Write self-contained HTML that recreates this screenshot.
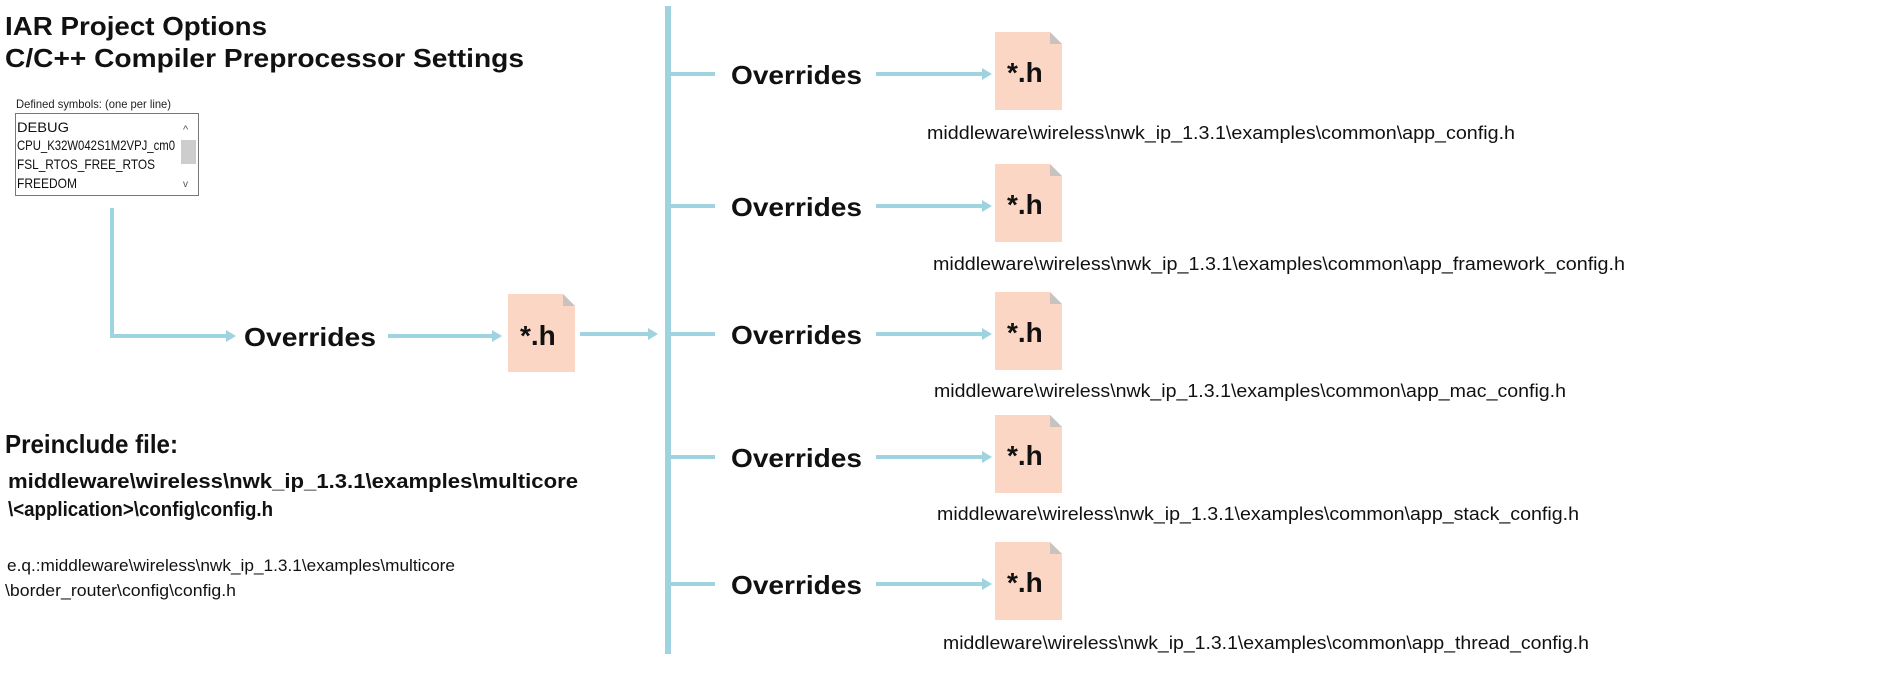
<!DOCTYPE html>
<html><head><meta charset="utf-8"><style>
html,body{margin:0;padding:0;background:#fff;width:1880px;height:675px;overflow:hidden}
svg{display:block}
.t{font-family:"Liberation Sans",sans-serif}
</style></head><body>
<svg width="1880" height="675" viewBox="0 0 1880 675" xmlns="http://www.w3.org/2000/svg">
<defs>
<g id="doc">
<path d="M0,0 H55 L67,12 V78 H0 Z" fill="#fbd6c5"/>
<path d="M55,0 L67,12 H55 Z" fill="#c9c3c0"/>
</g>
</defs>
<g class="t" font-weight="bold" fill="#111">
<text x="5" y="35" font-size="26" textLength="262" lengthAdjust="spacingAndGlyphs">IAR Project Options</text>
<text x="5" y="67" font-size="26" textLength="519" lengthAdjust="spacingAndGlyphs">C/C++ Compiler Preprocessor Settings</text>
</g>
<text class="t" x="16" y="108" font-size="12" fill="#222" textLength="155" lengthAdjust="spacingAndGlyphs">Defined symbols: (one per line)</text>
<rect x="15.5" y="113.5" width="183" height="82" fill="#fff" stroke="#777"/>
<rect x="181" y="140" width="15" height="24" fill="#cdcdcd"/>
<text class="t" x="183" y="133" font-size="11" fill="#555">^</text>
<text class="t" x="183" y="187" font-size="10" fill="#555">v</text>
<g class="t" font-size="14" fill="#111">
<text x="17" y="132" textLength="52" lengthAdjust="spacingAndGlyphs">DEBUG</text>
<text x="17" y="150" textLength="158" lengthAdjust="spacingAndGlyphs">CPU_K32W042S1M2VPJ_cm0</text>
<text x="17" y="169" textLength="138" lengthAdjust="spacingAndGlyphs">FSL_RTOS_FREE_RTOS</text>
<text x="17" y="188" textLength="60" lengthAdjust="spacingAndGlyphs">FREEDOM</text>
</g>
<g stroke="#9fd3e0" fill="none" stroke-width="4">
<path d="M112,208 V336 H228"/>
<path d="M388,336 H494"/>
<path d="M580,334 H650"/>
<path d="M668,6 V654" stroke-width="6"/>
</g>
<g fill="#9fd3e0">
<path d="M226,330 L236,336 L226,342 Z"/>
<path d="M492,330 L502,336 L492,342 Z"/>
<path d="M648,328 L658,334 L648,340 Z"/>
</g>
<text class="t" x="244" y="346" font-size="26" font-weight="bold" fill="#111" textLength="132" lengthAdjust="spacingAndGlyphs">Overrides</text>
<use href="#doc" x="508" y="294"/>
<text class="t" x="520" y="345" font-size="28" font-weight="bold" fill="#111">*.h</text>

<g id="rows">
<g transform="translate(0,74)">
<path d="M668,0 H715 M876,0 H984" stroke="#9fd3e0" stroke-width="4"/>
<path d="M982,-6 L992,0 L982,6 Z" fill="#9fd3e0"/>
<text class="t" x="731" y="10" font-size="26" font-weight="bold" fill="#111" textLength="131" lengthAdjust="spacingAndGlyphs">Overrides</text>
<use href="#doc" x="995" y="-42"/>
<text class="t" x="1007" y="8" font-size="28" font-weight="bold" fill="#111">*.h</text>
</g>
</g>
<g transform="translate(0,132)"><use href="#rows"/></g>
<g transform="translate(0,260)"><use href="#rows"/></g>
<g transform="translate(0,383)"><use href="#rows"/></g>
<g transform="translate(0,510)"><use href="#rows"/></g>

<g class="t" font-size="18" fill="#111">
<text x="927" y="139" textLength="588" lengthAdjust="spacingAndGlyphs">middleware\wireless\nwk_ip_1.3.1\examples\common\app_config.h</text>
<text x="933" y="270" textLength="692" lengthAdjust="spacingAndGlyphs">middleware\wireless\nwk_ip_1.3.1\examples\common\app_framework_config.h</text>
<text x="934" y="397" textLength="632" lengthAdjust="spacingAndGlyphs">middleware\wireless\nwk_ip_1.3.1\examples\common\app_mac_config.h</text>
<text x="937" y="520" textLength="642" lengthAdjust="spacingAndGlyphs">middleware\wireless\nwk_ip_1.3.1\examples\common\app_stack_config.h</text>
<text x="943" y="649" textLength="646" lengthAdjust="spacingAndGlyphs">middleware\wireless\nwk_ip_1.3.1\examples\common\app_thread_config.h</text>
</g>

<text class="t" x="5" y="453" font-size="26" font-weight="bold" fill="#111" textLength="173" lengthAdjust="spacingAndGlyphs">Preinclude file:</text>
<g class="t" font-size="20" font-weight="bold" fill="#111">
<text x="8" y="488" textLength="570" lengthAdjust="spacingAndGlyphs">middleware\wireless\nwk_ip_1.3.1\examples\multicore</text>
<text x="8" y="516" textLength="265" lengthAdjust="spacingAndGlyphs">\&lt;application&gt;\config\config.h</text>
</g>
<g class="t" font-size="17" fill="#111">
<text x="7" y="571" textLength="448" lengthAdjust="spacingAndGlyphs">e.q.:middleware\wireless\nwk_ip_1.3.1\examples\multicore</text>
<text x="5" y="596" textLength="231" lengthAdjust="spacingAndGlyphs">\border_router\config\config.h</text>
</g>
</svg>
</body></html>
